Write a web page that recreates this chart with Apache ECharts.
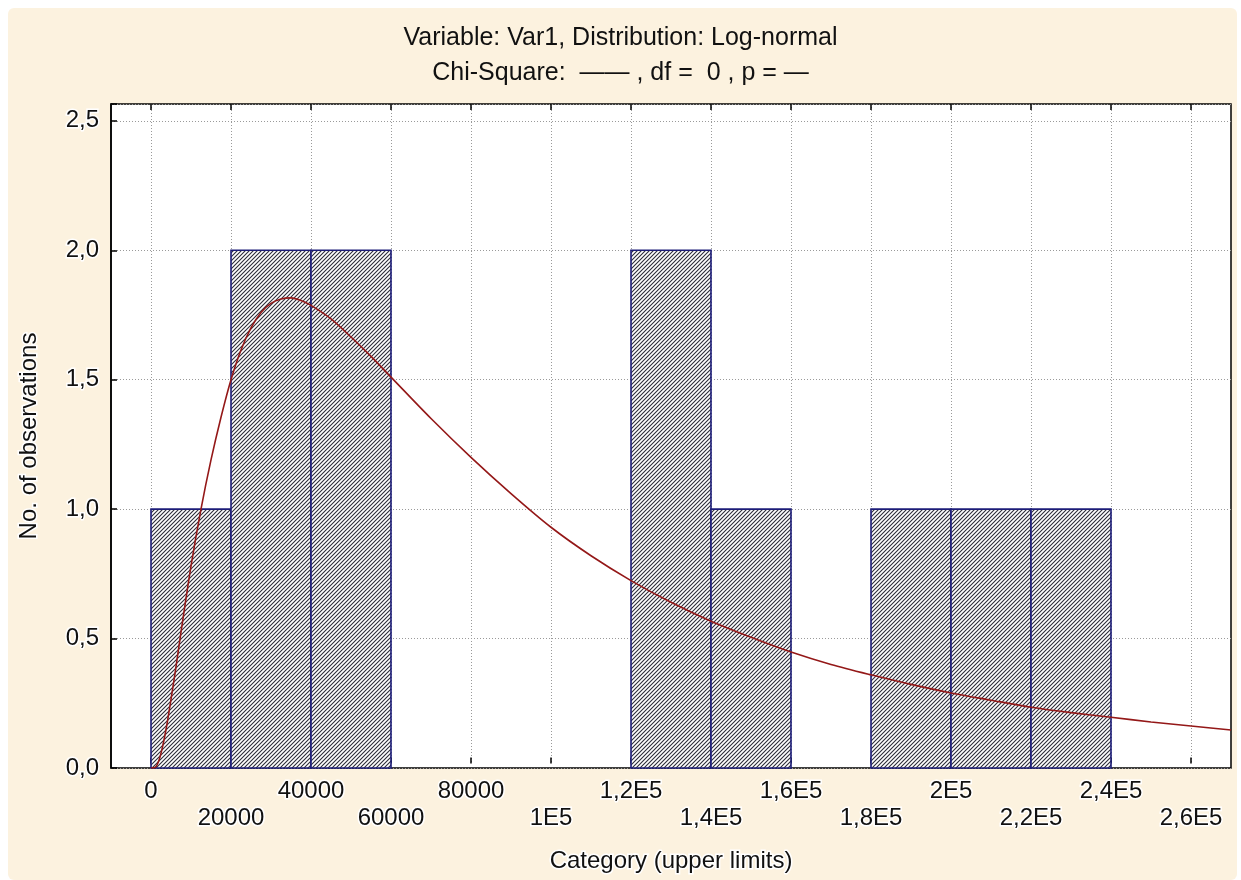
<!DOCTYPE html>
<html>
<head>
<meta charset="utf-8">
<script src="https://cdn.jsdelivr.net/npm/echarts@6/dist/echarts.min.js"></script>
<style>
html,body{margin:0;padding:0;background:#fff;}
#chart{width:1241px;height:880px;}
</style>
</head>
<body>
<div id="chart"></div>
<script>
// ---- data ----
const binLower = [0, 20000, 40000, 60000, 80000, 100000, 120000, 140000, 160000, 180000, 200000, 220000];
const binUpper = [20000, 40000, 60000, 80000, 100000, 120000, 140000, 160000, 180000, 200000, 220000, 240000];
const binCounts = [1, 2, 2, 0, 0, 0, 2, 1, 0, 1, 1, 1];

const curveX = [0, 1000, 2000, 3000, 4000, 5000, 6000, 7500, 10000, 12500, 15000, 17500, 20000, 22500, 25000, 27500, 30000, 32500, 35000, 37500, 40000, 45000, 50000, 55000, 60000, 70000, 80000, 90000, 100000, 110000, 120000, 130000, 140000, 150000, 160000, 170000, 180000, 190000, 200000, 210000, 220000, 230000, 240000, 250000, 260000, 270000];
const curveY = [0, 0.002, 0.03, 0.09, 0.17, 0.265, 0.365, 0.525, 0.78, 1.0, 1.19, 1.355, 1.5, 1.615, 1.70, 1.76, 1.795, 1.812, 1.816, 1.806, 1.787, 1.735, 1.665, 1.59, 1.51, 1.35, 1.2, 1.06, 0.93, 0.82, 0.724, 0.64, 0.567, 0.505, 0.448, 0.40, 0.36, 0.323, 0.29, 0.262, 0.235, 0.214, 0.196, 0.178, 0.162, 0.147];

const xTickLabels = ['0', '20000', '40000', '60000', '80000', '1E5', '1,2E5', '1,4E5', '1,6E5', '1,8E5', '2E5', '2,2E5', '2,4E5', '2,6E5'];
const yTickLabels = ['0,0', '0,5', '1,0', '1,5', '2,0', '2,5'];

const titleLine1 = 'Variable: Var1, Distribution: Log-normal';
const titleLine2 = 'Chi-Square:  \u2014\u2014 , df =  0 , p = \u2014';
const xName = 'Category (upper limits)';
const yName = 'No. of observations';

// ---- hatch pattern ----
function makeHatch() {
  const s = 4;
  const c = document.createElement('canvas');
  c.width = s; c.height = s;
  const g = c.getContext('2d');
  g.fillStyle = '#ffffff';
  g.fillRect(0, 0, s, s);
  g.strokeStyle = '#2c2c38';
  g.lineWidth = 1.1;
  g.beginPath();
  g.moveTo(0, s); g.lineTo(s, 0);
  g.moveTo(-1, 1); g.lineTo(1, -1);
  g.moveTo(s - 1, s + 1); g.lineTo(s + 1, s - 1);
  g.stroke();
  return c;
}
const hatch = makeHatch();

const FONT = '"Liberation Sans", Arial, sans-serif';
const halo = { textBorderColor: '#ffffff', textBorderWidth: 3 };

const chart = echarts.init(document.getElementById('chart'), null, { renderer: 'canvas' });

const gridTop = 104, gridBottom = 112;

const option = {
  backgroundColor: '#ffffff',
  animation: false,
  graphic: [{
    type: 'rect', z: -10, silent: true,
    shape: { x: 8, y: 8, width: 1229, height: 872, r: 6 },
    style: { fill: '#fcf2df' }
  }],
  title: {
    text: titleLine1 + '\n' + titleLine2,
    left: 'center', top: 16,
    textStyle: { fontFamily: FONT, fontSize: 25, fontWeight: 'normal', color: '#111', lineHeight: 35 }
  },
  grid: [
    { left: 111, right: 10, top: gridTop, bottom: gridBottom, show: true, backgroundColor: '#ffffff', borderColor: '#000', borderWidth: 1.5 },
    { left: 151, right: 50, top: gridTop, bottom: gridBottom, show: false }
  ],
  xAxis: [
    { gridIndex: 0, type: 'value', min: -10000, max: 270000, show: false },
    {
      gridIndex: 1, type: 'value', min: 0, max: 260000, interval: 20000, position: 'bottom',
      axisLine: { show: false },
      axisTick: { show: true, inside: true, length: 6, lineStyle: { color: '#000', width: 1.5 } },
      splitLine: { show: true, lineStyle: { color: '#9a9a9a', type: [1, 2], width: 1 } },
      axisLabel: {
        margin: 16, fontFamily: FONT, fontSize: 24, color: '#111', ...halo,
        formatter: v => { const i = Math.round(v / 20000); return i % 2 === 0 ? (xTickLabels[i] || '') : ''; }
      },
      name: xName, nameLocation: 'middle', nameGap: 86,
      nameTextStyle: { fontFamily: FONT, fontSize: 24, color: '#111', ...halo }
    },
    {
      gridIndex: 1, type: 'value', min: 0, max: 260000, interval: 20000, position: 'bottom',
      axisLine: { show: false }, axisTick: { show: false }, splitLine: { show: false },
      axisLabel: {
        margin: 43, fontFamily: FONT, fontSize: 24, color: '#111', ...halo,
        formatter: v => { const i = Math.round(v / 20000); return i % 2 === 1 ? (xTickLabels[i] || '') : ''; }
      }
    },
    {
      gridIndex: 1, type: 'value', min: 0, max: 260000, interval: 20000, position: 'top',
      axisLine: { show: false }, splitLine: { show: false }, axisLabel: { show: false },
      axisTick: { show: true, inside: true, length: 6, lineStyle: { color: '#000', width: 1.5 } }
    }
  ],
  yAxis: [
    {
      gridIndex: 0, type: 'value', min: 0, max: 2.565, interval: 0.5,
      axisLine: { show: true, onZero: false, lineStyle: { color: '#000', width: 1.5 } },
      axisTick: { show: true, inside: true, length: 6, lineStyle: { color: '#000', width: 1.5 } },
      splitLine: { show: true, lineStyle: { color: '#9a9a9a', type: [1, 2], width: 1 } },
      axisLabel: {
        margin: 12, fontFamily: FONT, fontSize: 24, color: '#111', ...halo,
        formatter: v => { const i = Math.round(v / 0.5); return Math.abs(v - i * 0.5) < 1e-6 ? (yTickLabels[i] || '') : ''; }
      },
      name: yName, nameLocation: 'middle', nameGap: 70,
      nameTextStyle: { fontFamily: FONT, fontSize: 24, color: '#111', ...halo }
    },
    { gridIndex: 1, type: 'value', min: 0, max: 1, show: false }
  ],
  series: [
    {
      type: 'custom', xAxisIndex: 0, yAxisIndex: 0, z: 3,
      data: binLower.map((lo, i) => [lo, binUpper[i], binCounts[i]]),
      renderItem: (params, api) => {
        const lo = api.value(0), hi = api.value(1), c = api.value(2);
        if (!c) return null;
        const p0 = api.coord([lo, 0]);
        const p1 = api.coord([hi, c]);
        return {
          type: 'rect',
          shape: { x: p0[0], y: p1[1], width: p1[0] - p0[0], height: p0[1] - p1[1] },
          style: { fill: { image: hatch, repeat: 'repeat' }, stroke: '#1c1c78', lineWidth: 1.6 }
        };
      }
    },
    {
      type: 'line', xAxisIndex: 0, yAxisIndex: 0, z: 5,
      data: curveX.map((x, i) => [x, curveY[i]]),
      smooth: 0.3, showSymbol: false, symbol: 'none',
      lineStyle: { color: '#941818', width: 1.6 }
    }
  ]
};
chart.setOption(option);
</script>
</body>
</html>
